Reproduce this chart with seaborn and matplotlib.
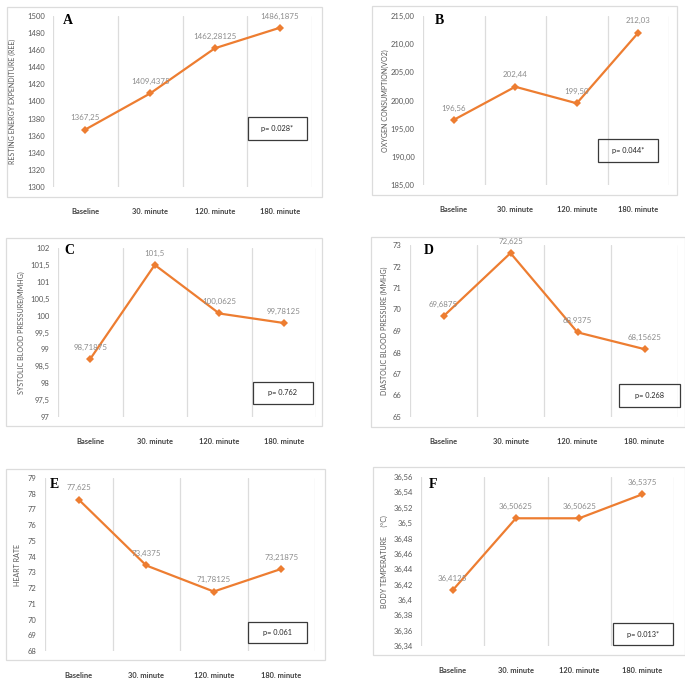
import matplotlib
matplotlib.use("Agg")
import matplotlib.pyplot as plt
import matplotlib.patches as mpatches
from matplotlib.ticker import FixedLocator, FuncFormatter
import numpy as np
import pandas as pd
import seaborn as sns

# ---------------- data ----------------
categories = ["Baseline", "30. minute", "120. minute", "180. minute"]

ree_values = [1367.25, 1409.4375, 1462.28125, 1486.1875]
vo2_values = [196.56, 202.44, 199.50, 212.03]
sbp_values = [98.71875, 101.5, 100.0625, 99.78125]
dbp_values = [69.6875, 72.625, 68.9375, 68.15625]
hr_values = [77.625, 73.4375, 71.78125, 73.21875]
temp_values = [36.4125, 36.50625, 36.50625, 36.5375]

panel_letters = ["A", "B", "C", "D", "E", "F"]
y_titles = ["RESTING ENERGY EXPENDITURE (REE)", "OXYGEN CONSUMPTION(VO2)",
            "SYSTOLIC BLOOD PRESSURE(MMHG)", "DIASTOLIC BLOOD PRESSURE (MMHG)",
            "HEART RATE", "BODY TEMPERATURE     (°C)"]
p_texts = ["p= 0.028*", "p= 0.044*", "p= 0.762", "p= 0.268", "p= 0.061", "p= 0.013*"]

y_ticks_A = [1300, 1320, 1340, 1360, 1380, 1400, 1420, 1440, 1460, 1480, 1500]
y_ticks_B = [185, 190, 195, 200, 205, 210, 215]
y_ticks_C = [97, 97.5, 98, 98.5, 99, 99.5, 100, 100.5, 101, 101.5, 102]
y_ticks_D = [65, 66, 67, 68, 69, 70, 71, 72, 73]
y_ticks_E = [68, 69, 70, 71, 72, 73, 74, 75, 76, 77, 78, 79]
y_ticks_F = [36.34, 36.36, 36.38, 36.40, 36.42, 36.44, 36.46, 36.48, 36.50, 36.52, 36.54, 36.56]

# ---------------- layout (pixels) ----------------
W, H = 685, 686
ORANGE = "#ED7D31"
GRID = "#dcdcdc"
TXT = "#595959"

panels = [
    dict(vals=ree_values, ticks=y_ticks_A, fmt="g", lab="g",
         ax=(53, 16, 312, 187), frame=(7, 7, 322, 197), box=(248, 117, 307, 140),
         letter=(68, 21), ylab_x=16),
    dict(vals=vo2_values, ticks=y_ticks_B, fmt="2f", lab="2f",
         ax=(423, 16, 669, 185), frame=(372, 6, 677, 195), box=(598, 139, 658, 162),
         letter=(439, 21), ylab_x=389),
    dict(vals=sbp_values, ticks=y_ticks_C, fmt="g", lab="g",
         ax=(58, 248, 316, 417), frame=(6, 238, 322, 426), box=(253, 382, 313, 404),
         letter=(69, 251), ylab_x=25),
    dict(vals=dbp_values, ticks=y_ticks_D, fmt="g", lab="g",
         ax=(410, 245, 678, 417), frame=(371, 237, 685, 427), box=(619, 384, 680, 407),
         letter=(429, 251), ylab_x=388),
    dict(vals=hr_values, ticks=y_ticks_E, fmt="g", lab="g",
         ax=(45, 478, 315, 651), frame=(6, 469, 325, 660), box=(248, 622, 307, 643),
         letter=(54, 485), ylab_x=21),
    dict(vals=temp_values, ticks=y_ticks_F, fmt="g", lab="g",
         ax=(421, 477, 674, 646), frame=(373, 467, 685, 655), box=(613, 623, 673, 645),
         letter=(433, 484), ylab_x=388),
]


def rect_fr(x0, y0, x1, y1):
    return [x0 / W, 1 - y1 / H, (x1 - x0) / W, (y1 - y0) / H]


sns.set_theme(style="white")
plt.rcParams["font.family"] = ["Lato", "DejaVu Sans"]

fig = plt.figure(figsize=(W / 100, H / 100), dpi=100)
fig.patch.set_facecolor("white")

for i, p in enumerate(panels):
    # outer chart frame
    fx0, fy0, fx1, fy1 = p["frame"]
    fig.add_artist(mpatches.Rectangle((fx0 / W, 1 - fy1 / H), (fx1 - fx0) / W, (fy1 - fy0) / H,
                                      transform=fig.transFigure, fill=False,
                                      edgecolor=GRID, linewidth=0.9))

    ax = fig.add_axes(rect_fr(*p["ax"]))
    ax.set_facecolor("none")
    df = pd.DataFrame({"time": categories, "value": p["vals"]})
    sns.lineplot(data=df, x="time", y="value", ax=ax, color=ORANGE, linewidth=1.6,
                 marker="D", markersize=3.8, markeredgewidth=0, sort=False)

    n = len(categories)
    ax.set_xlim(-0.5, n - 0.5)
    ticks = p["ticks"]
    ax.set_ylim(ticks[0], ticks[-1])
    ax.yaxis.set_major_locator(FixedLocator(ticks))
    kind = p["fmt"]
    ax.yaxis.set_major_formatter(FuncFormatter(
        lambda v, pos, k=kind: (f"{v:.2f}" if k == "2f" else f"{round(v, 4):g}").replace(".", ",")))
    ax.xaxis.set_minor_locator(FixedLocator(np.arange(-0.5, n, 1.0)))
    ax.grid(which="minor", axis="x", color=GRID, linewidth=0.9)
    ax.grid(which="major", visible=False)
    for s in ax.spines.values():
        s.set_visible(False)
    ax.tick_params(axis="y", length=0, labelsize=5.5, labelcolor=TXT, pad=6)
    ax.tick_params(axis="x", which="both", length=0, labelsize=5.4, labelcolor="#404040", pad=15)
    for t in ax.get_xticklabels():
        t.set_fontweight("bold")
    ax.set_xlabel("")

    # y title
    ax.set_ylabel(y_titles[i], fontsize=5.1, color=TXT)
    ax0 = p["ax"]
    ax.yaxis.set_label_coords((p["ylab_x"] - ax0[0]) / (ax0[2] - ax0[0]), 0.5)

    # data labels
    for xi, v in enumerate(p["vals"]):
        lbl = (f"{v:.2f}" if p["lab"] == "2f" else repr(float(v)).rstrip("0").rstrip(".")).replace(".", ",")
        ax.annotate(lbl, (xi, v), xytext=(0, 8.5), textcoords="offset points",
                    ha="center", va="center", fontsize=5.7, color="#8c8c8c")

    # panel letter
    lx, ly = p["letter"]
    fig.text(lx / W, 1 - ly / H, panel_letters[i], fontsize=10, fontweight="bold",
             family="Liberation Serif", ha="center", va="center", color="black")

    # p-value box
    bx0, by0, bx1, by1 = p["box"]
    fig.add_artist(mpatches.Rectangle((bx0 / W, 1 - by1 / H), (bx1 - bx0) / W, (by1 - by0) / H,
                                      transform=fig.transFigure, fill=False,
                                      edgecolor="#3a3a3a", linewidth=0.9))
    fig.text((bx0 + bx1) / 2 / W, 1 - (by0 + by1) / 2 / H, p_texts[i], fontsize=5.3,
             ha="center", va="center", color="#262626")

fig.savefig("out.png", dpi=100, facecolor="white")
